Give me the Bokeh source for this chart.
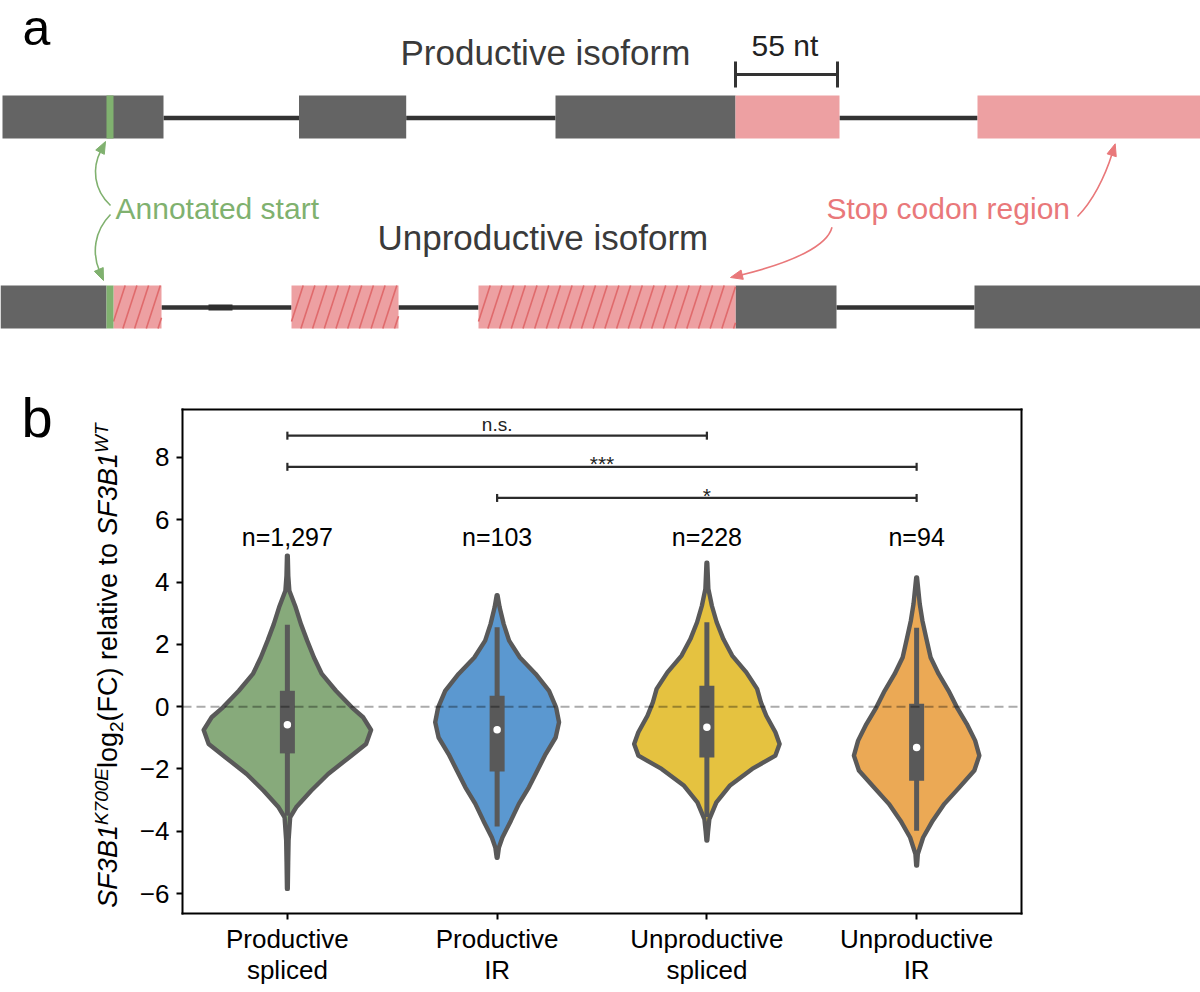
import math
from bokeh.plotting import figure
from bokeh.models import Range1d, Label, FixedTicker, LinearAxis
from bokeh.embed import file_html
from bokeh.resources import INLINE
from bokeh.core.properties import value

FONT = "Liberation Sans"
BASE_FIX = 0.38  # em offset correcting the rendered alphabetic baseline

# ======================= panel b : data =======================
categories = ["Productive\nspliced", "Productive\nIR", "Unproductive\nspliced", "Unproductive\nIR"]
n_labels = ["n=1,297", "n=103", "n=228", "n=94"]
violin_colors = ["#87aa7b", "#5b98d0", "#e5c240", "#eba955"]

# violin outlines: value level and half width (in category units)
green_y = [4.85, 4.2, 3.72, 3.19, 2.65, 2.12, 1.58, 1.05, 0.51, -0.02, -0.34, -0.75, -1.2, -1.63,
           -2.16, -2.70, -3.23, -3.55, -4.3, -5.0, -5.85]
green_hw = [0.0019, 0.0043, 0.0095, 0.0395, 0.0648, 0.0943, 0.1267, 0.1643, 0.2314, 0.3071, 0.361,
            0.399, 0.3752, 0.2943, 0.1943, 0.1133, 0.0419, 0.0133, 0.0057, 0.0038, 0.0019]
blue_y = [3.58, 3.19, 2.65, 2.12, 1.58, 1.05, 0.51, -0.02, -0.50, -0.99, -1.52, -2.05, -2.59, -3.12,
          -3.66, -4.20, -4.52, -4.85]
blue_hw = [0.0019, 0.0119, 0.0314, 0.0571, 0.1086, 0.1838, 0.2476, 0.281, 0.2952, 0.279, 0.2314,
           0.1919, 0.1514, 0.1038, 0.0657, 0.0252, 0.0086, 0.0019]
yellow_y = [4.62, 3.78, 3.24, 2.71, 2.17, 1.64, 1.10, 0.57, 0.14, -0.29, -0.82, -1.20, -1.57, -2.00,
            -2.54, -3.07, -3.61, -4.0, -4.30]
yellow_hw = [0.0019, 0.0071, 0.0238, 0.0467, 0.0786, 0.1205, 0.1881, 0.2395, 0.2576, 0.2833, 0.3267,
             0.3467, 0.3267, 0.2157, 0.1086, 0.0452, 0.0119, 0.0057, 0.0019]
orange_y = [4.15, 3.30, 2.76, 2.22, 1.58, 1.05, 0.51, -0.02, -0.56, -1.09, -1.57, -2.05, -2.59, -3.12,
            -3.66, -4.20, -4.73, -5.10]
orange_hw = [0.0019, 0.0148, 0.0276, 0.0452, 0.0667, 0.1048, 0.1524, 0.1919, 0.2395, 0.279, 0.299,
             0.2752, 0.2038, 0.1324, 0.0767, 0.031, 0.0057, 0.0019]

q1 = [-1.50, -2.08, -1.63, -2.38]
q3 = [0.51, 0.35, 0.67, 0.09]
medians = [-0.58, -0.74, -0.66, -1.31]
whisk_lo = [-3.5, -3.85, -3.55, -3.98]
whisk_hi = [2.63, 2.55, 2.71, 2.53]

sig_left = [0, 0, 1]
sig_right = [2, 3, 3]
sig_y = [8.7, 7.7, 6.7]
sig_text = ["n.s.", "***", "*"]

y_ticks = [-6, -4, -2, 0, 2, 4, 6, 8]

# ======================= panel a : schematic layout (pixel units) =======================
DARK = "#646464"
PINK = "#eda0a2"
HATCH = "#e06a6c"
GREEN = "#80b16f"
RED = "#e9787a"

top_exon_left = [2, 298.5, 555, 735, 977]
top_exon_right = [163, 405.7, 735, 839, 1200]
top_exon_color = [DARK, DARK, DARK, PINK, PINK]
top_intron_left = [163, 405.7, 839]
top_intron_right = [298.5, 555, 977]

bot_dark_left = [0, 735, 974]
bot_dark_right = [106, 836, 1200]
bot_hatch_left = [113, 291, 478]
bot_hatch_right = [161, 398, 735]
bot_intron_left = [161, 398, 836]
bot_intron_right = [291, 478, 974]

TOP_Y0, TOP_Y1 = 95, 138
BOT_Y0, BOT_Y1 = 285, 328

# ======================= single canvas =======================
WIDTH, HEIGHT = 1200, 992
Y0, Y1 = -6.64, 9.54
FRAME_L, FRAME_T, FRAME_W, FRAME_H = 182, 409, 839, 504
PX_X = 4.0 / FRAME_W
PX_Y = (Y1 - Y0) / FRAME_H


def fx(px):
    return -0.5 + (px - FRAME_L) * PX_X


def fy(py):
    return Y1 - (py - FRAME_T) * PX_Y


p = figure(width=WIDTH, height=HEIGHT, x_range=Range1d(fx(0), fx(WIDTH)),
           y_range=Range1d(fy(HEIGHT), fy(0)),
           x_axis_type=None, y_axis_type=None, toolbar_location=None, output_backend="svg",
           min_border=0, outline_line_color=None)
p.extra_x_ranges = {"px": Range1d(0, WIDTH)}
p.extra_y_ranges = {"py": Range1d(HEIGHT, 0)}
p.background_fill_color = "white"
A = dict(x_range_name="px", y_range_name="py")

# ---------- panel a ----------
p.segment(x0=top_intron_left, x1=top_intron_right, y0=[117.5] * 3, y1=[117.5] * 3,
          line_color="#333333", line_width=4.5, **A)
p.segment(x0=bot_intron_left, x1=bot_intron_right, y0=[307] * 3, y1=[307] * 3,
          line_color="#333333", line_width=4.5, **A)
p.segment(x0=[208], x1=[232], y0=[307], y1=[307], line_color="#2e2e2e", line_width=6, **A)

p.quad(left=top_exon_left, right=top_exon_right, top=[TOP_Y0] * 5, bottom=[TOP_Y1] * 5,
       fill_color=top_exon_color, line_color=None, **A)
p.quad(left=bot_dark_left, right=bot_dark_right, top=[BOT_Y0] * 3, bottom=[BOT_Y1] * 3,
       fill_color=DARK, line_color=None, **A)
p.quad(left=bot_hatch_left, right=bot_hatch_right, top=[BOT_Y0] * 3, bottom=[BOT_Y1] * 3,
       fill_color=PINK, line_color=None, **A)
hx0, hx1, hy0, hy1 = [], [], [], []
DX, STEP = 14.0, 11.7
for a, b in zip(bot_hatch_left, bot_hatch_right):
    start = a - DX
    k = 0
    while start + k * STEP < b:
        xb = start + k * STEP
        t0 = max(0.0, (a - xb) / DX)
        t1 = min(1.0, (b - xb) / DX)
        if t1 > t0:
            hx0.append(xb + DX * t0)
            hx1.append(xb + DX * t1)
            hy0.append(BOT_Y1 + (BOT_Y0 - BOT_Y1) * t0)
            hy1.append(BOT_Y1 + (BOT_Y0 - BOT_Y1) * t1)
        k += 1
p.segment(x0=hx0, x1=hx1, y0=hy0, y1=hy1, line_color=HATCH, line_width=1.6, **A)

p.quad(left=[106, 106], right=[113, 113], top=[TOP_Y0, BOT_Y0], bottom=[TOP_Y1, BOT_Y1],
       fill_color=GREEN, line_color=None, **A)

p.segment(x0=[735], x1=[837], y0=[74], y1=[74], line_color="#333333", line_width=3, **A)
p.segment(x0=[735, 837], x1=[735, 837], y0=[61, 61], y1=[87, 87], line_color="#333333",
          line_width=3, **A)


def curved_arrow(p0, mid, p2, color):
    cx = (4 * mid[0] - p0[0] - p2[0]) / 2.0
    cy = (4 * mid[1] - p0[1] - p2[1]) / 2.0
    c1 = (p0[0] + 2.0 / 3.0 * (cx - p0[0]), p0[1] + 2.0 / 3.0 * (cy - p0[1]))
    c2 = (p2[0] + 2.0 / 3.0 * (cx - p2[0]), p2[1] + 2.0 / 3.0 * (cy - p2[1]))
    dx, dy = p2[0] - cx, p2[1] - cy
    L = math.hypot(dx, dy)
    ux, uy = dx / L, dy / L
    hl, hw = 12.0, 4.8
    bx, by = p2[0] - hl * ux, p2[1] - hl * uy
    p.bezier(x0=[p0[0]], y0=[p0[1]], x1=[bx + 2 * ux], y1=[by + 2 * uy], cx0=[c1[0]], cy0=[c1[1]],
             cx1=[c2[0]], cy1=[c2[1]], line_color=color, line_width=1.6, **A)
    p.patch(x=[p2[0], bx - hw * uy, bx + hw * uy], y=[p2[1], by + hw * ux, by - hw * ux],
            fill_color=color, line_color=color, line_width=1, **A)


curved_arrow((110, 205), (96, 177), (105, 141), GREEN)
curved_arrow((110, 214), (96, 243), (103, 280), GREEN)
curved_arrow((1077, 216), (1097.5, 186.7), (1114.7, 143.3), RED)
curved_arrow((831.5, 226.7), (802.8, 253), (730, 277), RED)

for txt, x, y, size, color in [
    ("a", 22, 46, 50, "black"),
    ("Productive isoform", 400, 65, 35, "#3a3a3a"),
    ("Unproductive isoform", 377, 250, 35, "#3a3a3a"),
    ("55 nt", 751, 56, 30, "#222222"),
    ("Annotated start", 115, 219, 30, GREEN),
    ("Stop codon region", 826, 219, 30, RED),
    ("b", 21, 438, 56, "black"),
]:
    p.add_layout(Label(x=x, y=y - BASE_FIX * size, text=txt, text_font=FONT,
                       text_font_size=f"{size}px", text_color=color, text_align="left",
                       text_baseline="alphabetic", **A))


# ---------- panel b : axes ----------
def style_axis(ax):
    ax.axis_line_color = "black"
    ax.axis_line_width = 2
    ax.major_tick_line_color = "black"
    ax.major_tick_line_width = 2
    ax.major_tick_in = 0
    ax.major_tick_out = 6
    ax.minor_tick_line_color = None
    ax.major_label_text_font = FONT
    ax.major_label_text_font_size = "26px"
    ax.major_label_text_color = "black"


yax = LinearAxis(ticker=FixedTicker(ticks=y_ticks), fixed_location=-0.5, bounds=(Y0 - PX_Y, Y1 + PX_Y),
                 major_label_overrides={t: str(t).replace("-", "\u2212") for t in y_ticks},
                 major_label_standoff=7)
style_axis(yax)
p.add_layout(yax, "left")

xax = LinearAxis(ticker=FixedTicker(ticks=[0, 1, 2, 3]), fixed_location=Y0, bounds=(-0.5 - PX_X, 3.5 + PX_X),
                 major_label_overrides={i: c for i, c in enumerate(categories)},
                 major_label_standoff=4)
style_axis(xax)
xax.major_label_text_line_height = 1.05
p.add_layout(xax, "below")

rax = LinearAxis(ticker=FixedTicker(ticks=[]), fixed_location=3.5, bounds=(Y0 - PX_Y, Y1 + PX_Y))
style_axis(rax)
rax.major_tick_out = 0
rax.major_label_text_font_size = "0px"
p.add_layout(rax, "right")

tax = LinearAxis(ticker=FixedTicker(ticks=[]), fixed_location=Y1, bounds=(-0.5 - PX_X, 3.5 + PX_X))
style_axis(tax)
tax.major_tick_out = 0
tax.major_label_text_font_size = "0px"
p.add_layout(tax, "above")

# ---------- panel b : violins ----------
LINE = "#595959"
vy = [green_y, blue_y, yellow_y, orange_y]
vh = [green_hw, blue_hw, yellow_hw, orange_hw]
xs, ys = [], []
for i, (yy, hh) in enumerate(zip(vy, vh)):
    xs.append([i + h for h in hh] + [i - h for h in reversed(hh)])
    ys.append(list(yy) + list(reversed(yy)))
p.patches(xs=xs, ys=ys, fill_color=violin_colors, line_color=LINE, line_width=4.4, line_join="round")

cats = [0, 1, 2, 3]
p.segment(x0=cats, x1=cats, y0=whisk_lo, y1=whisk_hi, line_color=LINE, line_width=5)
BW = 7.5 * PX_X
p.quad(left=[c - BW for c in cats], right=[c + BW for c in cats], bottom=q1, top=q3,
       fill_color=LINE, line_color=None)
p.scatter(x=cats, y=medians, size=7.5, fill_color="white", line_color=None)

p.segment(x0=[-0.5], x1=[3.5], y0=[0], y1=[0], line_color="black", line_alpha=0.33,
          line_width=2, line_dash="9 5")

cap = 4 * PX_Y
p.segment(x0=sig_left, x1=sig_right, y0=sig_y, y1=sig_y, line_color="#2b2b2b", line_width=2.2)
p.segment(x0=sig_left + sig_right, x1=sig_left + sig_right,
          y0=[v - cap for v in sig_y] * 2, y1=[v + cap for v in sig_y] * 2,
          line_color="#2b2b2b", line_width=2.2)
sig_offset_px = [3.5, -4.5, -6.0]
sig_px = [19, 21, 21]
p.text(x=[(l + r) / 2 for l, r in zip(sig_left, sig_right)],
       y=[v + (o + BASE_FIX * s) * PX_Y for v, o, s in zip(sig_y, sig_offset_px, sig_px)],
       text=sig_text, text_align="center", text_baseline="alphabetic", text_font=value(FONT),
       text_font_size=[f"{s}px" for s in sig_px], text_color="#222222")

p.text(x=cats, y=[5.15 + BASE_FIX * 25 * PX_Y] * 4, text=n_labels, text_align="center",
       text_baseline="alphabetic", text_font=value(FONT), text_font_size="25px", text_color="black")

# ---------- y-axis label (italic gene names, super/subscripts) ----------
W = {"S": 667, "F": 611, "3": 556, "B": 667, "1": 556, "K": 667, "7": 556, "0": 556, "E": 667,
     "l": 222, "o": 556, "g": 556, "2": 556, "(": 333, "C": 722, ")": 333, " ": 278, "r": 333,
     "e": 556, "a": 556, "t": 278, "i": 222, "v": 500, "W": 944, "T": 611}
FM, FS = 27, 19
pieces = [("SF3B1", "italic", FM, 0), ("K700E", "italic", FS, -10), ("log", "normal", FM, 0),
          ("2", "normal", FS, 5), ("(FC) relative to ", "normal", FM, 0),
          ("SF3B1", "italic", FM, 0), ("WT", "italic", FS, -10)]
widths = [sum(W[c] for c in t) / 1000.0 * s for t, _, s, _ in pieces]
pos = 665 + sum(widths) / 2.0
for (t, style, s, shift), w in zip(pieces, widths):
    p.add_layout(Label(x=fx(118 + shift - BASE_FIX * s), y=fy(pos), text=t.rstrip(), angle=math.pi / 2,
                       text_font=FONT, text_font_style=style, text_font_size=f"{s}px",
                       text_color="black", text_align="left", text_baseline="alphabetic"))
    pos -= w

open("out.html", "w").write(file_html(p, INLINE))
